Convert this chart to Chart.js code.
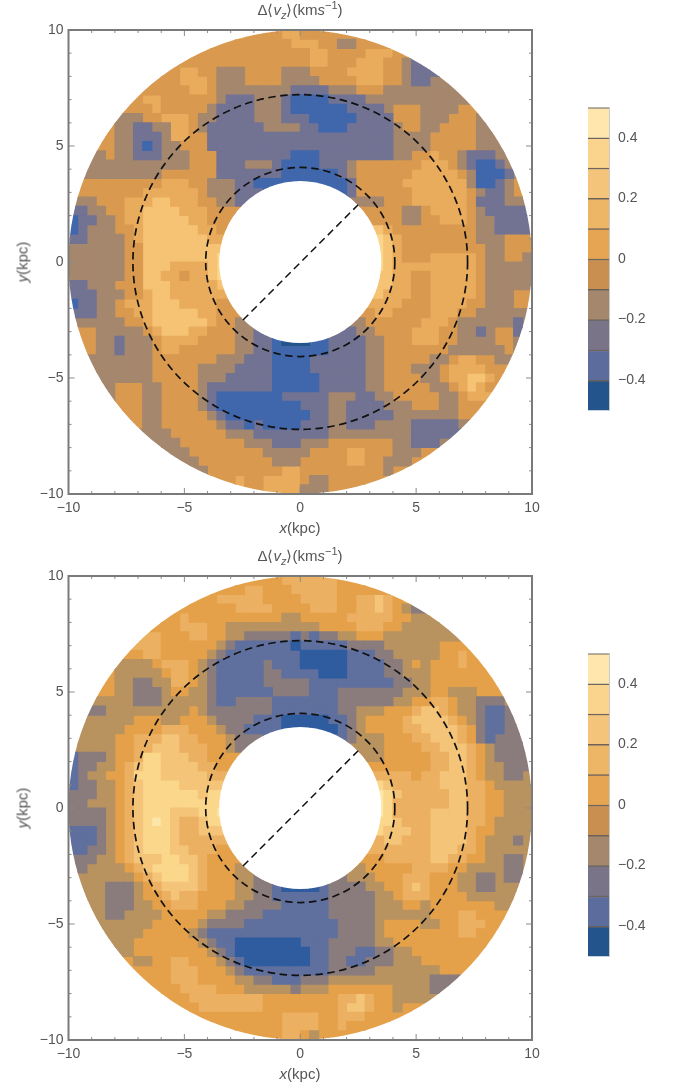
<!DOCTYPE html>
<html>
<head>
<meta charset="utf-8">
<title>vz maps</title>
<script src="https://cdn.jsdelivr.net/npm/chart.js@4/dist/chart.umd.min.js"></script>
<style>
  body { margin: 0; background: #fff; }
  #page { position: relative; width: 675px; height: 1090px; overflow: hidden; font-family: "Liberation Sans", sans-serif; color: #555; }
  canvas { position: absolute; }
  .lbl { position: absolute; white-space: nowrap; font-size: 15px; transform: translate(-50%, -50%); }
  .lbl.rot { transform: translate(-50%, -50%) rotate(-90deg); }
  .lbl sub, .lbl sup { font-size: 11px; line-height: 0; }
</style>
</head>
<body>
<div id="page"></div>
<script>
// Band index per 0.4 kpc cell. "." = no data, missing row ends too.
const upperNW = [
  "..................5444455",
  "................444444445",
  "..............44444444444",
  "............4444444444444",
  "..........445544333444433",
  ".........4445554333444433",
  "........44444554333333332",
  ".......455444444322233321",
  "......4445444443222233321",
  ".....33344555433222233322",
  "....433223355432222223333",
  "...4433222355442222222222",
  "...4433212334442222222222",
  "..33433222333444222222221",
  "..33333333333444222333211",
  ".333333333444444222222211",
  ".4444444445554433322111",
  ".4444444555555433322",
  "3334445556655544332",
  "223344556666555444",
  "122334556666655444",
  "12333445666666554",
  "22333345666666655",
  "33333344666666666",
  "33333344666666667",
];
const upperNE = [
  "44444",
  "554433444",
  "45544445554",
  "4554445554432",
  "344445555443222",
  "3344445554432233",
  "22233344433333333",
  "111222233333333333",
  "1111122223444333344",
  "21111122224443334443",
  "221112222234433444433",
  "2222222222333344444333",
  "2222222222333344444333",
  "11222222223344544322233",
  "11222344444445554321123",
  "111123444444555554311123",
  "...112444445555555311234",
  "....12444444555555432234",
  "......333444555555422233",
  ".......444433455554322222",
  "........44433445554332222",
  "........65444444444332222",
  "........76544444444333444",
  "........76544444444433444",
  "........76544455555433443",
];
const upperSW = [
  "33333344666555567",
  "33333344665545567",
  "22333444666555556",
  "22233344566555555",
  "122334555666555544",
  "222334455666665544",
  "3333334456666665443",
  ".44333334566655444332",
  ".443323334555544443322100",
  "..43323334554444443322111",
  "..33333334444444333222111",
  "...3333334444433332222111",
  "...3333334444433322222111",
  "....344433444432222222111",
  "....344433444432111111122",
  ".....44433444432111111111",
  "......4433444443211111111",
  ".......433444444322121111",
  "........33344444433322222",
  ".........3334444444333222",
  "..........333444444443333",
  "............3344444444333",
  "..............34444444455",
  "................445445555",
  "..................5445555",
];
const upperSE = [
  "........76555555555433333",
  "........66554455555433333",
  "........66554455555433333",
  "........65554455555433344",
  "........55544455554433344",
  ".......455444455544333333",
  "......3444444555433333323",
  "....22334444555443323442",
  "011222233444555443333443",
  "111222233444444433333343",
  "12222223344444334554433",
  "1222222334443334555544",
  "1122222334444334556654",
  "112222233444443345654",
  "22233322334444433455",
  "22233222233344433444",
  "1223322222333333344",
  "222332223333222223",
  "22233333333322222",
  "3334444444332223",
  "34444554443334",
  "4444455443334",
  "44444444434",
  "433444444",
  "33344",
];
const lowerNW = [
  "..................4444455",
  "................444554445",
  "..............44555554444",
  "............4444445555444",
  "..........445444444444433",
  ".........4445554433333333",
  "........55444554433222221",
  ".......555444444321111110",
  "......4455444443211111111",
  ".....33334555432111112111",
  "....433333455432111112211",
  "...4433223355432111112222",
  "...4433222344332111111222",
  "..33333222333332112222111",
  "..22333333333432222222111",
  ".333333444334443222211100",
  ".33333444455544432211110",
  ".3333445556655444322",
  "3333344556665554432",
  "122234457766655444",
  "122334567766665544",
  "12334457776666655",
  "12233456777766666",
  "22233456777777677",
  "22333456777777777",
];
const lowerNE = [
  "55554",
  "555544444",
  "55554455654",
  "4555445565432",
  "444445555544333",
  "3344445554433333",
  "21223344433333333",
  "111112222333333444",
  "0000011122333334454",
  "00000111122343444544",
  "110001111223334444444",
  "2111111111223344444444",
  "2111222222233344333444",
  "11112222223344554332223",
  "11112233344456654332112",
  "000112344445666654321122",
  "...012344445566665421122",
  "....12333444556665421222",
  "......333444455666543222",
  ".......334444455665432222",
  "........44444455665433222",
  "........55554556665433223",
  "........76555556665543333",
  "........87655555665544333",
  "........87555555665544333",
];
const lowerSW = [
  "22223456777666778",
  "22223456787655677",
  "11123456777655666",
  "11123456777655555",
  "112234567776655544",
  "222334566677665444",
  "2233334567777654443",
  ".33333345677765444332",
  ".333222345666654443322100",
  "..33222344565544443322111",
  "..33222334455544433222211",
  "...3223333444443322221111",
  "...3333334444432222111111",
  "....333344444321111111111",
  "....333444444432110000000",
  ".....33444444443210000000",
  "......4334455444321000000",
  ".......444455544432111111",
  "........44455544443322111",
  ".........4445555444333332",
  "..........444555555554444",
  "............4455555554444",
  "..............44444444455",
  "................444444455",
  "..................4444455",
];
const lowerSE = [
  "........87555566665544333",
  "........77655566665543333",
  "........76665566665443333",
  "........56655566665433323",
  "........55555566655433333",
  ".......445555566554433223",
  "......3444445555443333223",
  "....23334445554443322322",
  "001222233445654443322333",
  "111222223345554444333333",
  "11122222333443444444433",
  "1112222233333344455444",
  "1111222234444334455544",
  "111122223444444445544",
  "11122222334444444444",
  "01122211223344444444",
  "0112211222333444444",
  "111222223333333444",
  "22233333333333222",
  "3334444444333322",
  "44445565443333",
  "4444566544344",
  "55445554444",
  "554454444",
  "43444",
];

// Band colours as they appear in each map
const upperColors = ["#23558c", "#4067ab", "#727293", "#a5876d", "#d99a50", "#e9ab5c", "#f5c373", "#fbd68b", "#fee7ab"];
const lowerColors = ["#2f5c9e", "#5f6f9e", "#8a7c7c", "#b8925f", "#e5a04a", "#ecb062", "#f4c478", "#fbd78c", "#fde6aa"];

// Colour bar
const barEdges = [-0.5, -0.4, -0.3, -0.2, -0.1, 0, 0.1, 0.2, 0.3, 0.4, 0.5];
const barColors = ["#23558c", "#5c6c9c", "#7a7488", "#a5876d", "#c98f50", "#e5a552", "#edb566", "#f4c47a", "#fad48c", "#fee6ac"];
const barTicks = [-0.4, -0.2, 0, 0.2, 0.4];

// Axis and guides, kpc
const axisMin = -10;
const axisMax = 10;
const cellSize = 0.4;
const holeRadius = 3.5;
const diskRadius = 10;
const ringRadii = [4.08, 7.22];
const barLineX = [-2.47, 2.5];
const barLineY = [-2.5, 2.47];

const page = document.getElementById("page");
const tickColor = "#555";
const tickFont = { family: "Liberation Sans", size: 14 };
const fmt = (v) => String(v).replace("-", "\u2212");

function addCanvas(left, top, width, height) {
  const c = document.createElement("canvas");
  c.style.left = left + "px";
  c.style.top = top + "px";
  c.style.width = width + "px";
  c.style.height = height + "px";
  c.width = width;
  c.height = height;
  page.appendChild(c);
  return c;
}

function addLabel(html, x, y, rotated) {
  const d = document.createElement("div");
  d.className = rotated ? "lbl rot" : "lbl";
  d.style.left = x + "px";
  d.style.top = y + "px";
  d.innerHTML = html;
  page.appendChild(d);
}

// Join quadrants into a full grid of 50 rows
function joinRows(west, east) {
  return west.map((row, i) => row.padEnd(25, ".") + east[i].padEnd(25, "."));
}

// Cells on the edge straddle the clip circles, so they borrow a neighbour
function cellsByBand(rows, bandCount) {
  const bands = Array.from({ length: bandCount }, () => []);
  const at = (r, c) => (rows[r] && rows[r][c] && rows[r][c] !== "." ? rows[r][c] : null);
  rows.forEach((row, r) => {
    for (let c = 0; c < row.length; c++) {
      const v = at(r, c) || at(r, c + 1) || at(r, c - 1) || at(r + 1, c) || at(r - 1, c);
      if (v === null) continue;
      bands[+v].push({
        x: axisMin + cellSize * (c + 0.5),
        y: axisMax - cellSize * (r + 0.5),
      });
    }
  });
  return bands;
}

const annulusPlugin = {
  id: "annulus",
  beforeDatasetDraw(chart, args) {
    if (!chart.data.datasets[args.index].isCells) return;
    const { ctx, scales } = chart;
    const cx = scales.x.getPixelForValue(0);
    const cy = scales.y.getPixelForValue(0);
    const unit = scales.x.getPixelForValue(1) - cx;
    ctx.save();
    ctx.beginPath();
    ctx.arc(cx, cy, diskRadius * unit, 0, Math.PI * 2);
    ctx.arc(cx, cy, holeRadius * unit, 0, Math.PI * 2, true);
    ctx.clip("evenodd");
  },
  afterDatasetDraw(chart, args) {
    if (chart.data.datasets[args.index].isCells) chart.ctx.restore();
  },
};

const guidesPlugin = {
  id: "guides",
  afterDraw(chart) {
    const { ctx, scales, chartArea: a } = chart;
    const cx = scales.x.getPixelForValue(0);
    const cy = scales.y.getPixelForValue(0);
    const unit = scales.x.getPixelForValue(1) - cx;
    ctx.save();
    ctx.strokeStyle = "#111";
    ctx.lineWidth = 1.7;
    ctx.setLineDash([7.5, 4.5]);
    ringRadii.forEach((r) => {
      ctx.beginPath();
      ctx.arc(cx, cy, r * unit, 0, Math.PI * 2);
      ctx.stroke();
    });
    ctx.setLineDash([]);

    // Frame and inward ticks on all four sides
    ctx.strokeStyle = "#8a8a8a";
    ctx.lineWidth = 1;
    ctx.beginPath();
    scales.x.ticks.forEach((t) => {
      const p = scales.x.getPixelForValue(t.value);
      const len = t.value % 5 === 0 ? 6 : 3;
      ctx.moveTo(p, a.top); ctx.lineTo(p, a.top + len);
      ctx.moveTo(p, a.bottom); ctx.lineTo(p, a.bottom - len);
    });
    scales.y.ticks.forEach((t) => {
      const p = scales.y.getPixelForValue(t.value);
      const len = t.value % 5 === 0 ? 6 : 3;
      ctx.moveTo(a.left, p); ctx.lineTo(a.left + len, p);
      ctx.moveTo(a.right, p); ctx.lineTo(a.right - len, p);
    });
    ctx.stroke();
    ctx.strokeStyle = "#7a7a7a";
    ctx.lineWidth = 2;
    ctx.strokeRect(a.left, a.top, a.right - a.left, a.bottom - a.top);
    ctx.restore();
  },
};

function drawMap(top, rows, colors) {
  const canvas = addCanvas(0, top, 560, 540);
  const bands = cellsByBand(rows, colors.length);
  const datasets = [
    {
      type: "line",
      data: barLineX.map((x, i) => ({ x, y: barLineY[i] })),
      borderColor: "#111",
      borderWidth: 1.5,
      borderDash: [7.5, 4.5],
      pointRadius: 0,
    },
  ];
  bands.forEach((points, i) => {
    datasets.push({
      isCells: true,
      data: points,
      pointStyle: "rect",
      pointRadius: 7.2, // rect side is radius * sqrt(2), a bit over one cell so no seams show
      pointBorderWidth: 0,
      pointBackgroundColor: colors[i],
      pointBorderColor: colors[i],
    });
  });

  new Chart(canvas.getContext("2d"), {
    type: "scatter",
    data: { datasets },
    options: {
      responsive: false,
      animation: false,
      events: [],
      layout: { padding: { top: 30, right: 28, left: 0, bottom: 0 } },
      plugins: { legend: { display: false }, tooltip: { enabled: false } },
      scales: {
        x: {
          type: "linear",
          min: axisMin,
          max: axisMax,
          grid: { display: false, drawTicks: false },
          border: { display: false },
          afterFit: (s) => { s.height = 46; },
          ticks: {
            stepSize: 1,
            autoSkip: false,
            maxRotation: 0,
            padding: 6,
            color: tickColor,
            font: tickFont,
            callback: (v) => (v % 5 === 0 ? fmt(v) : ""),
          },
        },
        y: {
          type: "linear",
          min: axisMin,
          max: axisMax,
          grid: { display: false, drawTicks: false },
          border: { display: false },
          afterFit: (s) => { s.width = 68.5; },
          ticks: {
            stepSize: 1,
            autoSkip: false,
            padding: 5,
            color: tickColor,
            font: tickFont,
            callback: (v) => (v % 5 === 0 ? fmt(v) : ""),
          },
        },
      },
    },
    plugins: [annulusPlugin, guidesPlugin],
  });

  addLabel("\u0394\u27e8<i>v<sub>z</sub></i>\u27e9(km<i>s</i><sup>\u22121</sup>)", 300, top + 10);
  addLabel("<i>x</i>(kpc)", 300, top + 527);
  addLabel("<i>y</i>(kpc)", 22, top + 262, true);
}

function drawColorBar(top) {
  const canvas = addCanvas(570, top, 105, 326);
  const datasets = barColors.map((color, i) => ({
    data: [[barEdges[i], barEdges[i + 1]]],
    backgroundColor: color,
    borderColor: "rgba(60,50,40,0.75)",
    borderWidth: { top: 1.5, bottom: 0, left: 0, right: 0 },
    borderSkipped: false,
    barPercentage: 1,
    categoryPercentage: 1,
  }));

  new Chart(canvas.getContext("2d"), {
    type: "bar",
    data: { labels: [""], datasets },
    options: {
      responsive: false,
      animation: false,
      events: [],
      layout: { padding: { top: 9, bottom: 7, left: 18, right: 0 } },
      plugins: { legend: { display: false }, tooltip: { enabled: false } },
      scales: {
        x: { stacked: true, display: false },
        y: {
          position: "right",
          min: barEdges[0],
          max: barEdges[barEdges.length - 1],
          afterFit: (s) => { s.width = 66; },
          afterBuildTicks: (s) => { s.ticks = barTicks.map((value) => ({ value })); },
          grid: { display: false, drawTicks: true, tickLength: 6, tickColor: "#aaa" },
          border: { display: true, color: "#c8c8c8" },
          ticks: {
            padding: 3,
            color: tickColor,
            font: tickFont,
            callback: (v) => fmt(v),
          },
        },
      },
    },
  });
}

drawMap(0, joinRows(upperNW, upperNE).concat(joinRows(upperSW, upperSE)), upperColors);
drawMap(546, joinRows(lowerNW, lowerNE).concat(joinRows(lowerSW, lowerSE)), lowerColors);
drawColorBar(96);
drawColorBar(642);
</script>
</body>
</html>
